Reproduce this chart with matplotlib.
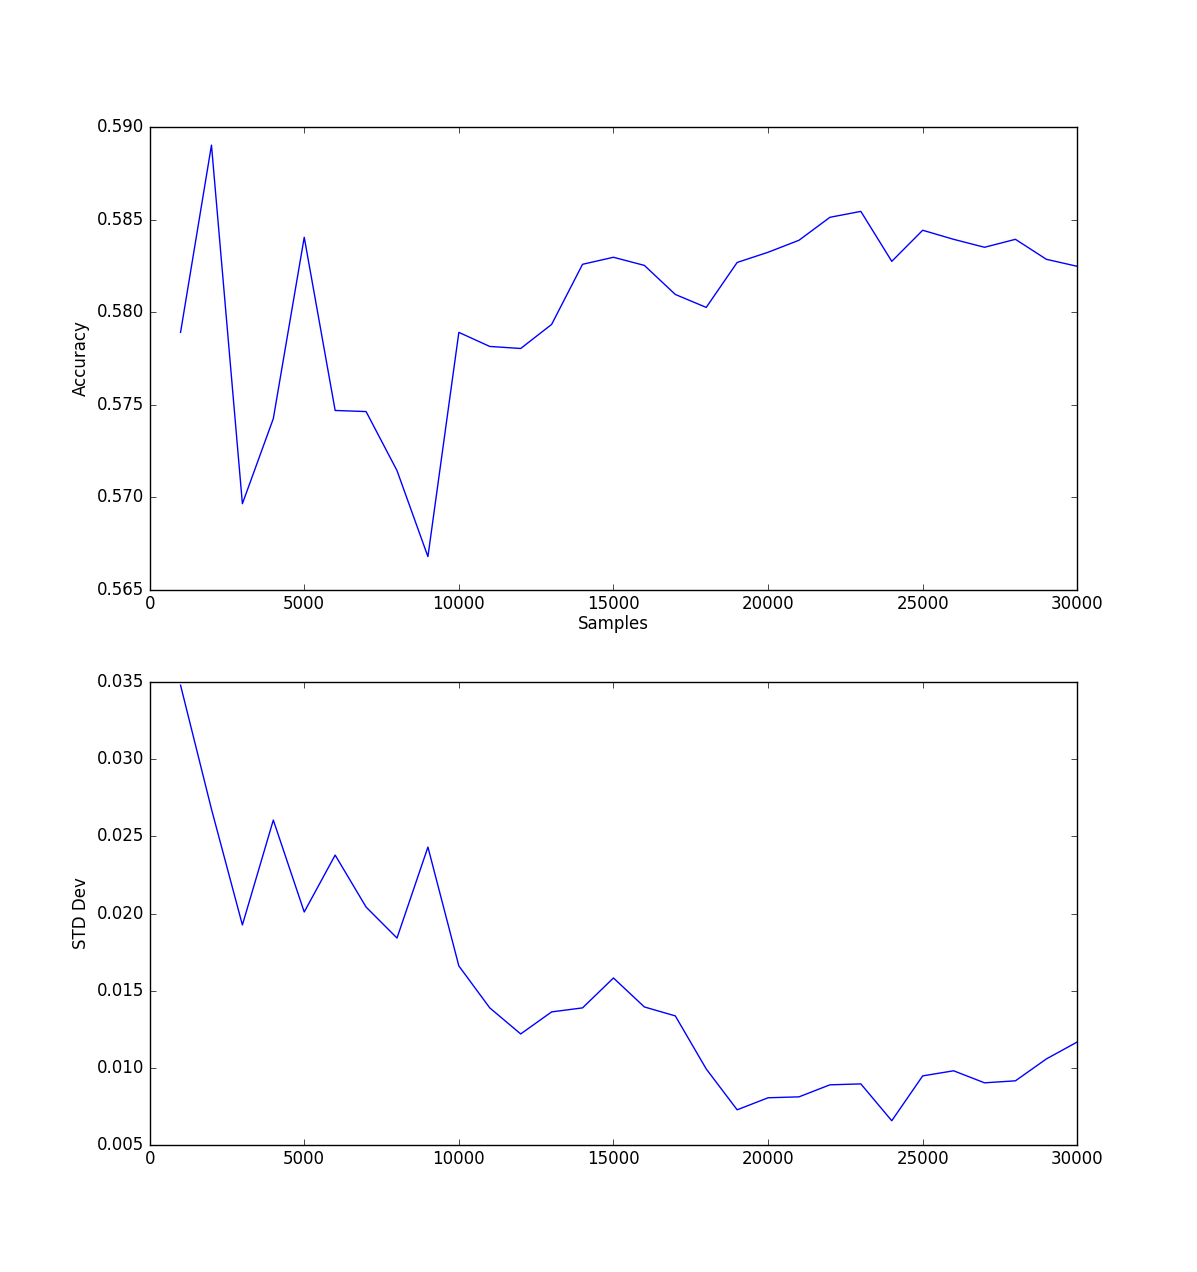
import matplotlib
matplotlib.use('Agg')
import matplotlib.pyplot as plt

plt.style.use('classic')

# --- datos ---
samples = list(range(1000, 31000, 1000))

accuracy = [0.57891, 0.58903, 0.56965, 0.57425, 0.58405, 0.57469, 0.57463, 0.57144,
            0.56679, 0.57891, 0.57815, 0.57804, 0.57934, 0.58259, 0.58297, 0.58253,
            0.58096, 0.58026, 0.58269, 0.58324, 0.58389, 0.58513, 0.58545, 0.58275,
            0.58443, 0.58394, 0.58351, 0.58394, 0.58286, 0.58248]

std_dev = [0.03481, 0.02677, 0.01926, 0.02606, 0.02010, 0.02379, 0.02042, 0.01841,
           0.02431, 0.01660, 0.01388, 0.01219, 0.01362, 0.01388, 0.01582, 0.01394,
           0.01336, 0.00992, 0.00727, 0.00805, 0.00811, 0.00889, 0.00895, 0.00656,
           0.00947, 0.00980, 0.00902, 0.00915, 0.01057, 0.01167]

fig = plt.figure(figsize=(11.97, 12.72), dpi=100)
fig.patch.set_facecolor('white')

ax1 = fig.add_subplot(2, 1, 1)
ax1.plot(samples, accuracy, color='b')
ax1.set_xlim(0, 30000)
ax1.set_ylim(0.565, 0.590)
ax1.set_xlabel('Samples', labelpad=1.5)
ax1.set_ylabel('Accuracy')

ax2 = fig.add_subplot(2, 1, 2)
ax2.plot(samples, std_dev, color='b')
ax2.set_xlim(0, 30000)
ax2.set_ylim(0.005, 0.035)
ax2.set_ylabel('STD Dev')

fig.savefig('out.png', dpi=100, facecolor='white')
